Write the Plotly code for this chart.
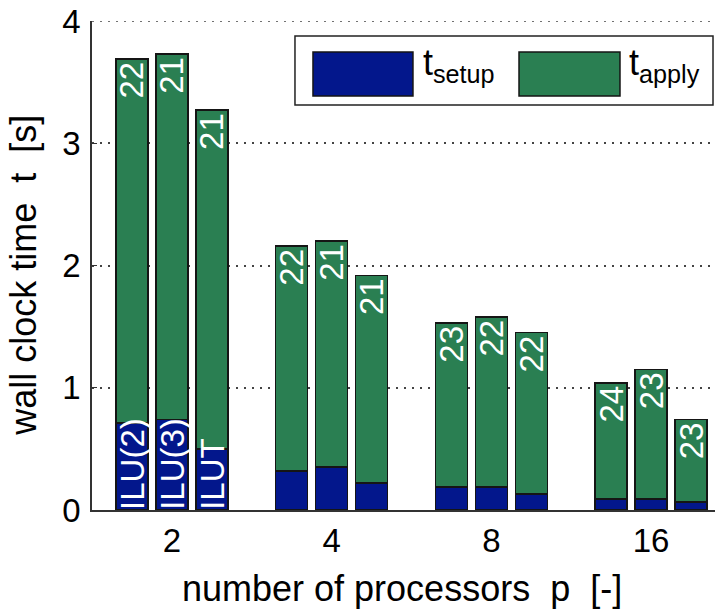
import plotly.graph_objects as go

# processor counts on the x axis
procs = ["2", "4", "8", "16"]
# preconditioners, one bar per group
methods = ["ILU(2)", "ILU(3)", "ILUT"]

# setup time [s] per method and processor count
t_setup_ilu2 = [0.71, 0.32, 0.19, 0.09]
t_setup_ilu3 = [0.74, 0.35, 0.19, 0.09]
t_setup_ilut = [0.50, 0.22, 0.13, 0.065]

# apply time [s] per method and processor count
t_apply_ilu2 = [2.98, 1.84, 1.34, 0.95]
t_apply_ilu3 = [2.99, 1.85, 1.39, 1.06]
t_apply_ilut = [2.77, 1.70, 1.32, 0.675]

# solver iteration counts
iters_ilu2 = [22, 22, 23, 24]
iters_ilu3 = [21, 21, 22, 23]
iters_ilut = [21, 21, 22, 23]

setup = [t_setup_ilu2, t_setup_ilu3, t_setup_ilut]
apply_ = [t_apply_ilu2, t_apply_ilu3, t_apply_ilut]
iters = [iters_ilu2, iters_ilu3, iters_ilut]

BLUE = "#03178C"
GREEN = "#2A7F52"
EDGE = "#151515"
FONT = "Liberation Sans, Arial, sans-serif"
FS_BAR = 33
FS_TICK = 33
FS_TITLE = 36

offsets = [-0.25, 0.0, 0.25]
bar_w = 0.2

fig = go.Figure()
for i, m in enumerate(methods):
    xs = [k + 1 + offsets[i] for k in range(len(procs))]
    fig.add_bar(
        x=xs, y=setup[i], width=bar_w, name="t_setup",
        marker=dict(color=BLUE, line=dict(color=EDGE, width=1.5)),
        showlegend=False,
    )
    fig.add_bar(
        x=xs, y=apply_[i], width=bar_w, name="t_apply",
        marker=dict(color=GREEN, line=dict(color=EDGE, width=1.5)),
        text=[str(v) for v in iters[i]],
        textposition="inside", insidetextanchor="end", textangle=-90,
        constraintext="none",
        textfont=dict(color="white", size=FS_BAR, family=FONT),
        showlegend=False,
    )
    # method name written upwards inside the first group's bars
    fig.add_annotation(
        x=1 + offsets[i], y=0, xref="x", yref="y",
        text=m, textangle=-90, showarrow=False,
        xanchor="center", yanchor="bottom", yshift=-2,
        font=dict(color="white", size=FS_BAR, family=FONT),
    )

# dotted grid line along the top of the axes
fig.add_shape(type="line", xref="paper", yref="y", x0=0, x1=1, y0=4, y1=4,
              line=dict(color="#444", width=1.5, dash="2px,6px"), layer="below")

# hand-drawn legend box with large swatches
legend_shapes = [
    dict(type="rect", xref="paper", yref="paper", x0=0.3258, x1=0.9968,
         y0=0.8284, y1=0.9694, fillcolor="white",
         line=dict(color="#222", width=1.5), layer="above"),
    dict(type="rect", xref="paper", yref="paper", x0=0.3547, x1=0.5152,
         y0=0.8468, y1=0.9367, fillcolor=BLUE,
         line=dict(color=EDGE, width=1.5), layer="above"),
    dict(type="rect", xref="paper", yref="paper", x0=0.6854, x1=0.8475,
         y0=0.8468, y1=0.9367, fillcolor=GREEN,
         line=dict(color=EDGE, width=1.5), layer="above"),
]
for s in legend_shapes:
    fig.add_shape(**s)

fig.add_annotation(x=0.528, y=0.91, xref="paper", yref="paper",
                   text="t<sub>setup</sub>", showarrow=False,
                   xanchor="left", yanchor="middle",
                   font=dict(color="black", size=FS_TITLE, family=FONT))
fig.add_annotation(x=0.858, y=0.91, xref="paper", yref="paper",
                   text="t<sub>apply</sub>", showarrow=False,
                   xanchor="left", yanchor="middle",
                   font=dict(color="black", size=FS_TITLE, family=FONT))

# axis titles
fig.add_annotation(x=-0.11, y=0.48, xref="paper", yref="paper",
                   text="wall clock time  t  [s]", textangle=-90,
                   showarrow=False, xanchor="center", yanchor="middle",
                   font=dict(color="black", size=FS_TITLE, family=FONT))
fig.add_annotation(x=0.497, y=-0.16, xref="paper", yref="paper",
                   text="number of processors  p  [-]",
                   showarrow=False, xanchor="center", yanchor="middle",
                   font=dict(color="black", size=FS_TITLE, family=FONT))

fig.update_layout(
    width=715, height=609,
    margin=dict(l=92, r=0, t=21, b=99),
    barmode="stack",
    plot_bgcolor="white", paper_bgcolor="white",
    font=dict(family=FONT, size=FS_TICK, color="black"),
    xaxis=dict(
        range=[0.5, 4.4],
        tickvals=[1, 2, 3, 4], ticktext=procs,
        showgrid=False, zeroline=False,
        showline=True, linecolor="#333", linewidth=1.5,
        ticks="", ticklabelstandoff=1,
    ),
    yaxis=dict(
        range=[0, 4], tickvals=[0, 1, 2, 3, 4],
        showgrid=True, gridcolor="#444", griddash="2px,6px", gridwidth=1.5,
        zeroline=False,
        showline=True, linecolor="#333", linewidth=1.5,
        ticks="inside", ticklen=5, tickcolor="#333",
        ticklabelstandoff=3,
    ),
)

fig.write_html("out.html")
